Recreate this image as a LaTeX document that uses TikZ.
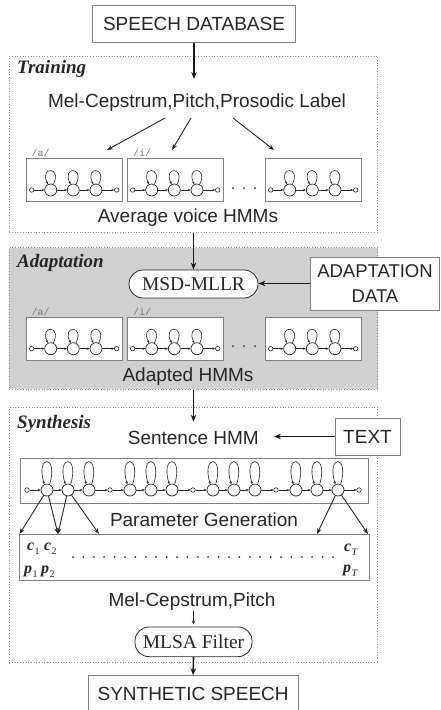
\documentclass[tikz,border=0pt]{standalone}
\usepackage{fontspec}
\setmainfont{Liberation Serif}
\setsansfont{Liberation Sans}
\setmonofont{Liberation Mono}
\usetikzlibrary{arrows.meta,calc}
\definecolor{adaptgray}{RGB}{208,208,208}
\newcommand{\vecsym}[2]{{\bfseries\itshape #1}\kern0.3pt\raisebox{-0.25em}{\fontsize{10}{10}\selectfont #2}}
\newcommand{\hmmunit}[3]{%
  \node[box, minimum width=96pt, minimum height=43pt, anchor=north west] (#3box) at (#1,#2) {};
  \node[sm] (#3a) at ({#1+5.7},{#2+32}) {};
  \node[st] (#3b) at ({#1+24.7},{#2+32}) {};
  \node[st] (#3c) at ({#1+47.3},{#2+32}) {};
  \node[st] (#3d) at ({#1+70},{#2+32}) {};
  \node[sm] (#3e) at ({#1+90.7},{#2+32}) {};
  \draw[tr] (#3a) -- (#3b);
  \draw[tr] (#3b) -- (#3c);
  \draw[tr] (#3c) -- (#3d);
  \draw[tr] (#3d) -- (#3e);
  \draw[tr] (#3b.65) .. controls +(9,-18) and +(-9,-18) .. (#3b.115);
  \draw[tr] (#3c.65) .. controls +(9,-18) and +(-9,-18) .. (#3c.115);
  \draw[tr] (#3d.65) .. controls +(9,-18) and +(-9,-18) .. (#3d.115);
}
\begin{document}
\begin{tikzpicture}[x=1pt,y=-1pt,
  region/.style={draw=black!45, dotted, line width=0.7pt, inner sep=0pt},
  box/.style={draw=black!50, line width=0.8pt, fill=white, inner sep=0pt},
  rbox/.style={draw=black!85, line width=0.8pt, fill=white, rounded corners=14pt, inner sep=0pt},
  sans/.style={font=\fontsize{19}{22}\selectfont\sffamily, text=black!85, inner sep=0pt},
  serif/.style={font=\fontsize{19.5}{22}\selectfont\rmfamily, text=black!85},
  title/.style={font=\fontsize{19}{22}\selectfont\rmfamily\bfseries\itshape, text=black!85, anchor=base west, inner sep=0pt},
  big/.style={-{Stealth[length=7pt,width=5.5pt]}, line width=1.6pt, black!90},
  mid/.style={-{Stealth[length=6pt,width=4.5pt]}, line width=0.9pt, black!85},
  small/.style={-{Stealth[length=4pt,width=3.5pt]}, line width=0.7pt, black!85},
  st/.style={circle, draw=black!85, line width=0.7pt, minimum size=12pt, inner sep=0pt, fill=white},
  sm/.style={circle, draw=black!85, line width=0.6pt, minimum size=4.5pt, inner sep=0pt, fill=white},
  tr/.style={-{Stealth[length=2.8pt,width=2.4pt]}, line width=0.6pt, black!85},
  ph/.style={font=\fontsize{10}{10}\selectfont\ttfamily, text=black!55, anchor=base west, inner sep=0pt},
  vec/.style={anchor=base west, inner sep=0pt, font=\fontsize{16}{16}\selectfont\rmfamily, text=black!85},
]
\useasboundingbox (0,0) rectangle (440,710);

% regions
\node[region, minimum width=368.4pt, minimum height=176.3pt] (train) at (193.5,144.15) {};
\node[region, fill=adaptgray, minimum width=368.4pt, minimum height=141.6pt] (adapt) at (193.5,318.5) {};
\node[region, minimum width=368.4pt, minimum height=255.4pt] (synth) at (193.5,535) {};

\node[title] (ttr) at (17,73) {Training};
\node[title] (tad) at (17,267.3) {Adaptation};
\node[title] (tsy) at (17,428.3) {Synthesis};

% top
\node[box, sans, minimum width=202.6pt, minimum height=37pt] (sd) at (194,23.8) {SPEECH DATABASE};
\node[sans, anchor=base] (mel) at (197,107.5) {Mel-Cepstrum,Pitch,Prosodic Label};
\coordinate (melin) at (194,79);
\draw[big] (sd.south) -- (melin);

% training HMMs
\hmmunit{26}{158}{ta}
\hmmunit{127}{158}{ti}
\hmmunit{265}{158}{tx}
\node[ph] (pa1) at (31.5,156.5) {/a/};
\node[ph] (pi1) at (133,156.5) {/i/};
\foreach \x in {233,244,255} \fill[black!80] (\x,188) circle (1pt);
\coordinate (f1s) at (165,118); \coordinate (f1e) at (107,150);
\coordinate (f2s) at (191,118); \coordinate (f2e) at (172,150);
\coordinate (f3s) at (233,118); \coordinate (f3e) at (274,150);
\draw[mid] (f1s) -- (f1e);
\draw[mid] (f2s) -- (f2e);
\draw[mid] (f3s) -- (f3e);
\node[sans, anchor=base] (avg) at (188,222) {Average voice HMMs};

% adaptation
\node[rbox, serif, minimum width=129pt, minimum height=28pt] (msd) at (193.5,284) {MSD-MLLR};
\draw[big] (train.south) -- (msd.north);
\node[box, align=center, minimum width=128.6pt, minimum height=53pt, font=\fontsize{18.5}{25}\selectfont\sffamily, text=black!85] (ad) at (375,283.5) {ADAPTATION\\DATA};
\draw[big] (ad.west) -- (ad.west -| msd.east);
\hmmunit{26}{316.7}{aa}
\hmmunit{127}{316.7}{ai}
\hmmunit{265}{316.7}{ax}
\node[ph] (pa2) at (31.5,315) {/a/};
\node[ph] (pi2) at (133,315) {/i/};
\foreach \x in {233,244,255} \fill[black!80] (\x,346) circle (1pt);
\node[sans, anchor=base] (adp) at (188,381) {Adapted HMMs};

% synthesis
\node[sans, anchor=base] (sent) at (193.3,444) {Sentence HMM};
\coordinate (sentin) at (193.5,421.7);
\draw[big] (adapt.south) -- (sentin);
\node[box, sans, minimum width=65pt, minimum height=37pt] (text) at (367.5,436.5) {TEXT};
\draw[big, shorten >=15pt] (text.west) -- (text.west -| sent.east);

\node[box, minimum width=348pt, minimum height=45pt, anchor=north west] (big) at (20,458) {};
\foreach \g [count=\n from 1] in {0,1,2,3} {
  \pgfmathsetmacro{\sx}{27+83*\g}
  \node[sm] (S\g) at (\sx,490) {};
  \node[st] (B\g1) at ({\sx+20},490) {};
  \node[st] (B\g2) at ({\sx+41},490) {};
  \node[st] (B\g3) at ({\sx+62},490) {};
}
\node[sm] (S4) at (359,490) {};
\foreach \g [count=\n from 1] in {0,1,2,3} {
  \draw[tr] (S\g) -- (B\g1);
  \draw[tr] (B\g1) -- (B\g2);
  \draw[tr] (B\g2) -- (B\g3);
  \draw[tr] (B\g3) -- (S\n);
  \foreach \k in {1,2,3}
    \draw[tr] (B\g\k.65) .. controls +(9,-30) and +(-9,-30) .. (B\g\k.115);
}

\node[sans, anchor=base] (pg) at (204,526.7) {Parameter Generation};
\node[box, minimum width=350pt, minimum height=45.5pt, anchor=north west] (par) at (19,534) {};
\coordinate (t1) at (19.5,534);
\coordinate (t2) at (58,534);
\coordinate (t3) at (99,534);
\coordinate (t4) at (317,534);
\coordinate (t5) at (368,534);
\draw[mid] (B01) -- (t1);
\draw[mid] (B01) -- (t2);
\draw[mid] (B02) -- (t2);
\draw[mid] (B02) -- (t3);
\draw[mid] (B33) -- (t4);
\draw[mid] (B33) -- (t5);

\node[vec] (c1) at (27,550.7) {\vecsym{c}{1}};
\node[vec] (c2) at (44,550.7) {\vecsym{c}{2}};
\node[vec] (p1) at (24,573) {\vecsym{p}{1}};
\node[vec] (p2) at (41,573) {\vecsym{p}{2}};
\node[vec] (cT) at (344,551.5) {\vecsym{c}{\itshape T}};
\node[vec] (pT) at (343,572.5) {\vecsym{p}{\itshape T}};
\foreach \i in {0,...,25} \fill[black!80] ({73+\i*10.4},557) circle (1pt);

\node[sans, anchor=base] (mcp) at (192,606) {Mel-Cepstrum,Pitch};
\node[rbox, serif, minimum width=117pt, minimum height=29.7pt] (mlsa) at (193.5,641.8) {MLSA Filter};
\draw[small, shorten <=1pt, shorten >=2pt] (mcp.south -| mlsa.north) -- (mlsa.north);
\node[box, sans, minimum width=209.7pt, minimum height=37.3pt] (out) at (193.15,694.35) {SYNTHETIC SPEECH};
\draw[big] (mlsa.south) -- (out.north);
\end{tikzpicture}
\end{document}
